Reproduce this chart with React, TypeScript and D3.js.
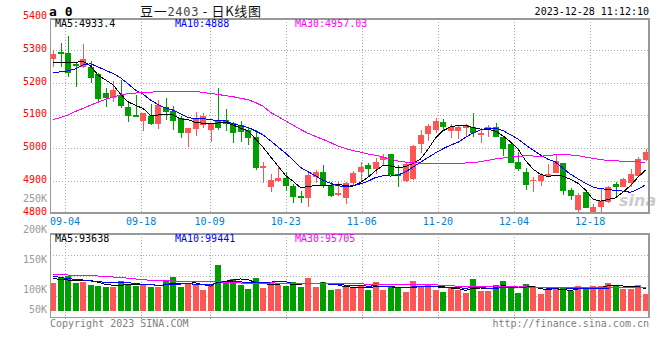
import React from "react";
import * as d3 from "d3";

// trading days shown (80 candles)
const dates = [
  "08-31", "09-01", "09-04", "09-05", "09-06", "09-07", "09-08", "09-11", "09-12", "09-13",
  "09-14", "09-15", "09-18", "09-19", "09-20", "09-21", "09-22", "09-25", "09-26", "09-27",
  "09-28", "10-09", "10-10", "10-11", "10-12", "10-13", "10-16", "10-17", "10-18", "10-19",
  "10-20", "10-23", "10-24", "10-25", "10-26", "10-27", "10-30", "10-31", "11-01", "11-02",
  "11-03", "11-06", "11-07", "11-08", "11-09", "11-10", "11-13", "11-14", "11-15", "11-16",
  "11-17", "11-20", "11-21", "11-22", "11-23", "11-24", "11-27", "11-28", "11-29", "11-30",
  "12-01", "12-04", "12-05", "12-06", "12-07", "12-08", "12-11", "12-12", "12-13", "12-14",
  "12-15", "12-18", "12-19", "12-20", "12-21", "12-22", "12-25", "12-26", "12-27", "12-28",
];

const opens = [
  5272, 5294, 5292, 5257, 5247, 5247, 5226, 5169, 5154, 5162,
  5126, 5101, 5083, 5098, 5073, 5124, 5113, 5091, 5047, 5058,
  5070, 5055, 5082, 5087, 5075, 5071, 5055, 5034, 4938, 4880,
  4899, 4909, 4885, 4854, 4846, 4912, 4927, 4887, 4856, 4846,
  4892, 4927, 4948, 4935, 4963, 4981, 4920, 4900, 4905, 5012,
  5042, 5055, 5079, 5053, 5053, 5060, 5065, 5040, 5057, 5063,
  5034, 5012, 4956, 4927, 4899, 4899, 4915, 4924, 4953, 4871,
  4810, 4864, 4802, 4818, 4834, 4890, 4881, 4892, 4915, 4963,
];
const highs = [
  5300, 5322, 5343, 5264, 5318, 5267, 5228, 5183, 5206, 5208,
  5142, 5162, 5108, 5135, 5147, 5153, 5128, 5098, 5062, 5110,
  5106, 5077, 5183, 5119, 5080, 5083, 5060, 5055, 4958, 4920,
  4943, 4927, 4889, 4868, 4922, 4933, 4948, 4897, 4897, 4897,
  4930, 4958, 4953, 4970, 4981, 4981, 4948, 4955, 5009, 5055,
  5072, 5091, 5089, 5074, 5067, 5072, 5108, 5060, 5070, 5077,
  5037, 5014, 4989, 4938, 4912, 4922, 4951, 4979, 4955, 4878,
  4861, 4866, 4828, 4877, 4884, 4897, 4909, 4935, 4973, 4998,
];
const lows = [
  5249, 5247, 5218, 5188, 5244, 5198, 5142, 5126, 5142, 5121,
  5080, 5094, 5052, 5070, 5059, 5085, 5055, 5030, 5004, 5038,
  5060, 5019, 5055, 5052, 5014, 5019, 5009, 4933, 4892, 4866,
  4897, 4869, 4831, 4832, 4820, 4892, 4877, 4849, 4854, 4828,
  4887, 4897, 4910, 4920, 4948, 4914, 4880, 4897, 4902, 4984,
  5021, 5045, 5053, 5030, 5026, 5034, 5033, 5016, 5033, 5033,
  4975, 4953, 4930, 4871, 4866, 4884, 4912, 4922, 4856, 4841,
  4805, 4815, 4798, 4805, 4831, 4851, 4880, 4881, 4912, 4961,
];
const closes = [
  5288, 5288, 5229, 5252, 5271, 5215, 5150, 5154, 5177, 5128,
  5098, 5096, 5106, 5073, 5131, 5111, 5083, 5047, 5062, 5088,
  5098, 5072, 5062, 5073, 5047, 5050, 5031, 4938, 4945, 4902,
  4909, 4885, 4851, 4846, 4917, 4927, 4887, 4853, 4861, 4892,
  4922, 4943, 4935, 4958, 4973, 4917, 4915, 4951, 5007, 5041,
  5068, 5083, 5065, 5065, 5063, 5070, 5047, 5045, 5063, 5034,
  4996, 4955, 4936, 4887, 4902, 4917, 4920, 4960, 4869, 4854,
  4856, 4817, 4820, 4838, 4881, 4881, 4905, 4920, 4966, 4989,
];
const volumes = [
  106600, 116600, 120600, 106600, 108600, 102000, 100000, 98600, 98600, 110000,
  104000, 100000, 104000, 98600, 98600, 110000, 117400, 98000, 104000, 102000,
  92000, 102000, 142000, 110000, 114000, 102000, 94000, 116600, 96600, 108600,
  102000, 100600, 108600, 98600, 116600, 98600, 108600, 92000, 94000, 97400,
  97400, 100000, 92000, 108600, 92000, 100000, 95400, 88600, 110000, 98600,
  104000, 92000, 88600, 97400, 92000, 86600, 114000, 90000, 90000, 102000,
  110000, 96600, 86600, 104000, 100000, 84000, 92000, 93400, 95400, 90000,
  100000, 95400, 100000, 100000, 106600, 100000, 93400, 93400, 102000, 84000,
];

// moving-average values before enough candles are on screen
const ma5Head = [5260, 5262, 5262, 5262];
const ma10Head = [5230, 5233, 5236, 5242, 5254, 5258, 5248, 5238, 5228];
const ma30Head = [
  5087, 5093, 5101, 5112, 5121, 5131, 5140, 5149, 5156, 5162,
  5166, 5168, 5170, 5171, 5172, 5173, 5174, 5174, 5174, 5173,
  5170, 5167, 5164, 5160, 5157, 5152, 5148, 5139, 5128,
];
const volMa5Head = [115000, 113000, 112000, 110000];
const volMa10Head = [120000, 117000, 115000, 113000, 112000, 110000, 109000, 107000, 106000];
const volMa30Head = [
  123000, 122500, 122000, 121500, 121000, 120500, 120000, 119000, 118000, 117000,
  115500, 114000, 112500, 111500, 111000, 110500, 110000, 110000, 110000, 110000,
  109500, 109000, 108600, 107500, 106500, 106000, 105500, 105000, 105000,
];

const priceTicks = [4800, 4900, 5000, 5100, 5200, 5300, 5400];
const volTicks = [50000, 100000, 150000, 200000, 250000];
const volTickLabels = ["50K", "100K", "150K", "200K", "250K"];
const dateTicks = ["09-04", "09-18", "10-09", "10-23", "11-06", "11-20", "12-04", "12-18"];

const maLegend = ["MA5:4933.4", "MA10:4888", "MA30:4957.03"];
const volLegend = ["MA5:93638", "MA10:99441", "MA30:95705"];

const RED = "#ff5555";
const GREEN = "#009f00";
const GRID = "#aaaaaa";
const BORDER = "#999999";
const MA_COLORS = ["#000000", "#0000ff", "#ff00ff"];
const MONO = "'DejaVu Sans Mono', monospace";

const movingAvg = (vals: number[], n: number, head: number[]) =>
  vals.map((_, i) => (i < n - 1 ? head[i] : (d3.mean(vals.slice(i - n + 1, i + 1)) as number)));

export default function App() {
  const W = 660, H = 360;
  const left = 50, right = 649;
  const mainTop = 19, mainBottom = 213;
  const volTop = 234, volBottom = 317;

  const x = d3.scaleBand<string>().domain(dates).range([49.25, 649.25]);
  const cx = (i: number) => (x(dates[i]) as number) + x.bandwidth() / 2;
  const bodyLeft = (i: number) => Math.round(cx(i) - 3);
  const gridX = d3.scaleLinear().domain([0, dates.length]).range([49.8, 658.6]);

  const y = d3.scaleLinear().domain([4800, 5400]).range([213.3, 17.3]);
  const yVol = d3.scaleLinear().domain([50000, 200000]).range([311, 236]);
  const yVolLabel = d3.scaleLinear().domain([50000, 100000, 250000]).range([313.3, 293.3, 202.3]);

  const priceMAs = [movingAvg(closes, 5, ma5Head), movingAvg(closes, 10, ma10Head), movingAvg(closes, 30, ma30Head)];
  const volMAs = [movingAvg(volumes, 5, volMa5Head), movingAvg(volumes, 10, volMa10Head), movingAvg(volumes, 30, volMa30Head)];

  const priceLine = d3.line<number>().x((_, i) => cx(i)).y((v) => y(v));
  const volLine = d3.line<number>().x((_, i) => cx(i)).y((v) => yVol(v));

  const volGridY = [1, 2, 3].map((k) => Math.round(volTop + ((volBottom - volTop) * k) / 4) + 0.5);

  return (
    <svg width={W} height={H} style={{ position: "absolute", left: 0, top: 0, background: "#fff" }} fontFamily={MONO}>
      <rect x={0} y={0} width={W} height={H} fill="#fff" />

      {/* header */}
      <text x={49} y={16} fontSize={13} fontWeight="bold" fill="#000">a 0</text>
      <text x={140} y={16} fontSize={13} fontFamily="'Noto Sans CJK SC', sans-serif" fill="#111"
        textLength={121} lengthAdjust="spacing">
        豆一<tspan fill="#444" fontFamily={MONO} fontSize={12}>2403</tspan> - 日K线图
      </text>
      <text x={649} y={15} fontSize={10} textAnchor="end" fill="#000">2023-12-28 11:12:10</text>

      {/* grids */}
      <g stroke={GRID} strokeDasharray="1,2" shapeRendering="crispEdges">
        {priceTicks.filter((t) => t > 4800 && t < 5400).map((t) => (
          <line key={t} x1={left} x2={right} y1={Math.round(y(t)) + 0.5} y2={Math.round(y(t)) + 0.5} />
        ))}
        {volGridY.map((g) => (
          <line key={g} x1={left} x2={right} y1={g} y2={g} />
        ))}
        {dateTicks.map((d) => {
          const gx = Math.round(gridX(dates.indexOf(d))) + 0.5;
          return (
            <g key={d}>
              <line x1={gx} x2={gx} y1={mainTop} y2={mainBottom} />
              <line x1={gx} x2={gx} y1={volTop} y2={volBottom + 4} />
            </g>
          );
        })}
      </g>

      {/* watermark */}
      <text x={619} y={206} fontSize={16} fontStyle="italic" fontWeight="bold" fontFamily="'DejaVu Sans', sans-serif" fill="#cccccc">sina</text>

      {/* candles */}
      <g shapeRendering="crispEdges">
        {dates.map((d, i) => {
          const up = closes[i] >= opens[i];
          const c = up ? RED : GREEN;
          const top = Math.round(y(Math.max(opens[i], closes[i])));
          const bot = Math.round(y(Math.min(opens[i], closes[i])));
          const bl = bodyLeft(i);
          return (
            <g key={d}>
              <line x1={bl + 3.5} x2={bl + 3.5} y1={Math.round(y(highs[i]))} y2={Math.round(y(lows[i]))} stroke={c} />
              <rect x={bl} y={top} width={6} height={Math.max(1, bot - top)} fill={c} />
            </g>
          );
        })}
      </g>

      {/* price moving averages */}
      <g fill="none" strokeWidth={1}>
        {priceMAs.map((m, k) => (
          <path key={k} d={priceLine(m) as string} stroke={MA_COLORS[k]} shapeRendering="crispEdges" />
        ))}
      </g>

      {/* volume bars */}
      <g shapeRendering="crispEdges">
        {dates.map((d, i) => {
          const up = closes[i] >= opens[i];
          const top = Math.round(yVol(volumes[i]));
          return (
            <rect key={d} x={bodyLeft(i)} y={top} width={6} height={Math.round(yVol(50000)) - top} fill={up ? RED : GREEN} />
          );
        })}
      </g>
      <g fill="none" strokeWidth={1}>
        {volMAs.map((m, k) => (
          <path key={k} d={volLine(m) as string} stroke={MA_COLORS[k]} shapeRendering="crispEdges" />
        ))}
      </g>

      {/* borders */}
      <g stroke={BORDER} shapeRendering="crispEdges" fill="none">
        <line x1={left} x2={right + 1} y1={mainTop} y2={mainTop} strokeWidth={2} />
        <line x1={left} x2={right + 1} y1={mainBottom} y2={mainBottom} strokeWidth={2} />
        <line x1={left + 0.5} x2={left + 0.5} y1={mainTop} y2={mainBottom} />
        <line x1={right} x2={right} y1={mainTop} y2={mainBottom} strokeWidth={2} />
        <line x1={left} x2={right + 1} y1={volTop} y2={volTop} strokeWidth={2} />
        <line x1={left} x2={right + 1} y1={volBottom + 0.5} y2={volBottom + 0.5} />
        <line x1={left + 0.5} x2={left + 0.5} y1={volTop} y2={volBottom} />
        <line x1={right} x2={right} y1={volTop} y2={volBottom} strokeWidth={2} />
      </g>

      {/* legends */}
      {maLegend.map((t, k) => (
        <text key={t} x={55 + k * 120} y={27.3} fontSize={10} fill={MA_COLORS[k]}>{t}</text>
      ))}
      {volLegend.map((t, k) => (
        <text key={t} x={55 + k * 120} y={241.7} fontSize={10} fill={MA_COLORS[k]}>{t}</text>
      ))}

      {/* axes labels */}
      {priceTicks.map((t) => (
        <text key={t} x={47} y={y(t) + 2} fontSize={10} textAnchor="end" fill="#ff0000">{t}</text>
      ))}
      {volTicks.map((t, k) => (
        <text key={t} x={47} y={yVolLabel(t)} fontSize={10} textAnchor="end" fill="#999">{volTickLabels[k]}</text>
      ))}
      {dateTicks.map((d) => (
        <text key={d} x={gridX(dates.indexOf(d))} y={225} fontSize={10} textAnchor="middle" fill="#0080d0">{d}</text>
      ))}

      {/* footer */}
      <text x={50} y={326.7} fontSize={10} fill="#808080">Copyright 2023 SINA.COM</text>
      <text x={649} y={326.7} fontSize={10} textAnchor="end" fill="#808080">http://finance.sina.com.cn</text>
    </svg>
  );
}
